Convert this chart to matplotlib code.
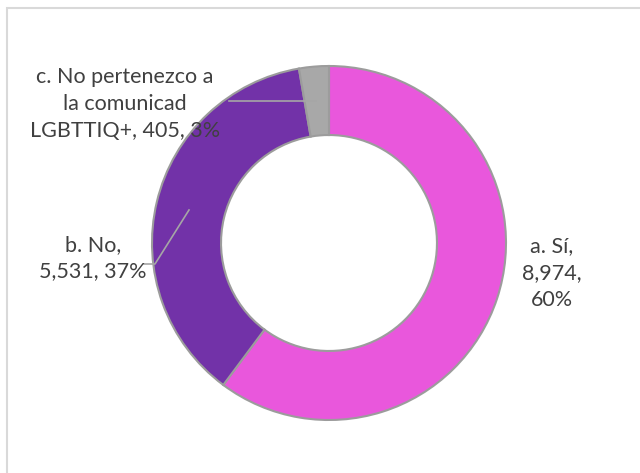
import matplotlib.pyplot as plt
from matplotlib.patches import Rectangle

# datos del grafico
categorias = ["a. Sí", "b. No", "c. No pertenezco a la comunicad LGBTTIQ+"]
valores = [8974, 5531, 405]
colores = ["#E957DC", "#7232A8", "#A8A8A8"]

total = sum(valores)
porcentajes = [round(v / total * 100) for v in valores]

fig = plt.figure(figsize=(6.4, 4.73), dpi=100)
ax = fig.add_axes([0, 0, 1, 1])

# marco del area del grafico (solo se ven arriba e izquierda)
fig.patches.append(Rectangle((7 / 640, -0.1), 1.2, (473 - 8) / 473 + 0.1,
                             transform=fig.transFigure, fill=False,
                             edgecolor="#D9D9D9", linewidth=1.5))

cx, cy, r = 329, 473 - 243, 177
ax.pie(valores, colors=colores, startangle=90, counterclock=False,
       center=(cx, cy), radius=r, frame=True,
       wedgeprops=dict(width=r * 0.39, edgecolor="#9C9C9C", linewidth=1.5))
ax.set_xlim(0, 640)
ax.set_ylim(0, 473)
ax.set_aspect("equal")
ax.axis("off")

fuente = dict(family="Lato", fontsize=15.5, color="#404040", ha="center",
              va="center", linespacing=1.42)

# etiquetas de datos
ax.text(552, 473 - 273,
        "%s,\n%s,\n%d%%" % (categorias[0], format(valores[0], ","), porcentajes[0]), **fuente)
ax.text(93, 473 - 258,
        "%s,\n%s, %d%%" % (categorias[1], format(valores[1], ","), porcentajes[1]), **fuente)
ax.text(125, 473 - 104,
        "c. No pertenezco a\nla comunicad\nLGBTTIQ+, %s, %d%%" % (format(valores[2], ","), porcentajes[2]),
        **fuente)

# lineas guia
ax.plot([229, 316], [473 - 101, 473 - 101], color="#A6A6A6", lw=1.2)
ax.plot([144, 155, 189], [473 - 264, 473 - 264, 473 - 210], color="#A6A6A6", lw=1.2)

fig.savefig("out.png", dpi=100)
